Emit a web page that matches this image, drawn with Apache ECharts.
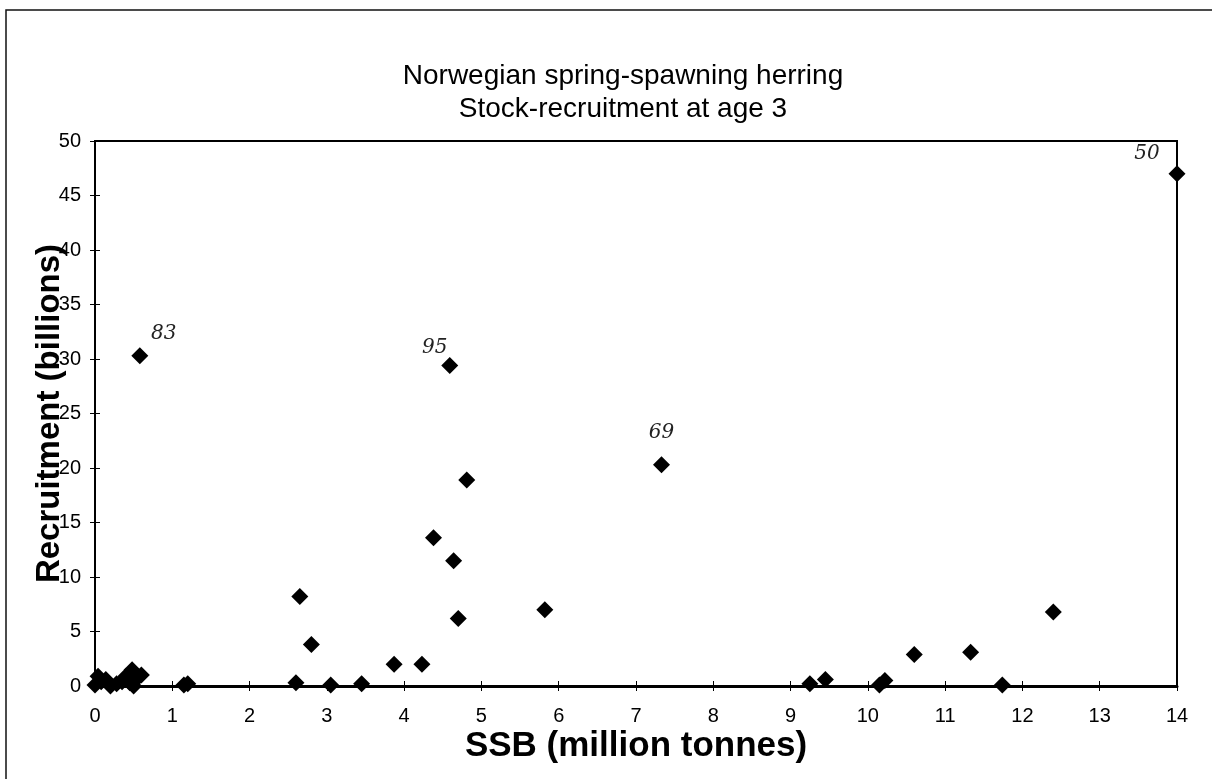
<!DOCTYPE html>
<html>
<head>
<meta charset="utf-8">
<script src="https://cdn.jsdelivr.net/npm/echarts@6/dist/echarts.min.js"></script>
<style>
  html, body { margin: 0; padding: 0; background: #fff; }
  #chart { width: 1212px; height: 779px; }
</style>
</head>
<body>
<div id="chart"></div>
<script>
// SSB (million tonnes) and recruitment at age 3 (billions)
const ssb = [0.00, 0.04, 0.08, 0.14, 0.20, 0.28, 0.35, 0.40, 0.45, 0.48, 0.50, 0.56, 0.60,
  0.58, 1.15, 1.20, 2.60, 2.65, 2.80, 3.05, 3.45, 3.87, 4.23, 4.38, 4.59, 4.64, 4.70,
  4.81, 5.82, 7.33, 9.25, 9.45, 10.15, 10.22, 10.60, 11.33, 11.74, 12.40, 14.00];
const recruits = [0.1, 0.9, 0.4, 0.6, 0.0, 0.2, 0.4, 0.9, 0.3, 1.5, 0.0, 0.8, 1.0,
  30.3, 0.1, 0.2, 0.3, 8.2, 3.8, 0.1, 0.2, 2.0, 2.0, 13.6, 29.4, 11.5, 6.2,
  18.9, 7.0, 20.3, 0.2, 0.6, 0.1, 0.5, 2.9, 3.1, 0.1, 6.8, 47.0];

// handwritten year notes: point index -> text
const noteIndex = [13, 24, 29, 38];
const noteText = ["83", "95", "69", "50"];
const noteOffset = [[24, -22], [-15, -18], [0, -32], [-30, -20]];

const xTicks = [0, 14, 1];   // min, max, interval
const yTicks = [0, 50, 5];

const points = ssb.map((x, i) => {
  const k = noteIndex.indexOf(i);
  const p = { value: [x, recruits[i]] };
  if (k >= 0) {
    p.label = {
      show: true,
      formatter: noteText[k],
      position: "inside",
      offset: noteOffset[k],
      color: "#222",
      fontFamily: "DejaVu Serif",
      fontStyle: "italic",
      fontSize: 20,
    };
  }
  return p;
});

const chart = echarts.init(document.getElementById("chart"));

// second axis only to draw the inner half of the cross ticks
const tickAxis = (range, pos) => ({
  type: "value",
  min: range[0],
  max: range[1],
  interval: range[2],
  position: pos,
  axisLine: { show: false },
  axisTick: { show: true, inside: true, length: 5, lineStyle: { color: "#000", width: 1 } },
  axisLabel: { show: false },
  splitLine: { show: false },
});

chart.setOption({
  animation: false,
  backgroundColor: "#fff",
  title: {
    text: "Norwegian spring-spawning herring\nStock-recruitment at age 3",
    left: 618,
    top: 55,
    textAlign: "center",
    textStyle: {
      fontFamily: "Liberation Sans",
      fontWeight: "normal",
      fontSize: 28,
      lineHeight: 33,
      color: "#000",
    },
  },
  graphic: [
    {
      type: "polyline",
      shape: { points: [[6, 779], [6, 10], [1212, 10]] },
      style: { stroke: "#111", lineWidth: 1.5, fill: null },
    },
  ],
  grid: {
    left: 95,
    top: 141,
    right: 35,
    bottom: 93,
    show: true,
    borderColor: "#000",
    borderWidth: 2,
    backgroundColor: "#fff",
  },
  xAxis: [
    {
      type: "value",
      min: xTicks[0],
      max: xTicks[1],
      interval: xTicks[2],
      name: "SSB (million tonnes)",
      nameLocation: "middle",
      nameGap: 43,
      nameMoveOverlap: false,
      nameTextStyle: { fontFamily: "Liberation Sans", fontWeight: "bold", fontSize: 35, color: "#000" },
      axisLine: { show: true, onZero: false, lineStyle: { color: "#000", width: 3 } },
      axisTick: { show: true, length: 5, lineStyle: { color: "#000", width: 1 } },
      axisLabel: { fontFamily: "Liberation Sans", fontSize: 20, color: "#000", margin: 20 },
      splitLine: { show: false },
    },
    tickAxis(xTicks, "bottom"),
  ],
  yAxis: [
    {
      type: "value",
      min: yTicks[0],
      max: yTicks[1],
      interval: yTicks[2],
      name: "Recruitment (billions)",
      nameLocation: "middle",
      nameGap: 29,
      nameMoveOverlap: false,
      nameTextStyle: { fontFamily: "Liberation Sans", fontWeight: "bold", fontSize: 33, color: "#000" },
      axisLine: { show: true, onZero: false, lineStyle: { color: "#000", width: 2 } },
      axisTick: { show: true, length: 5, lineStyle: { color: "#000", width: 1 } },
      axisLabel: { fontFamily: "Liberation Sans", fontSize: 20, color: "#000", margin: 14 },
      splitLine: { show: false },
    },
    tickAxis(yTicks, "left"),
  ],
  series: [
    {
      type: "scatter",
      symbol: "diamond",
      symbolSize: 17,
      itemStyle: { color: "#000", opacity: 1 },
      data: points,
    },
  ],
});
</script>
</body>
</html>
